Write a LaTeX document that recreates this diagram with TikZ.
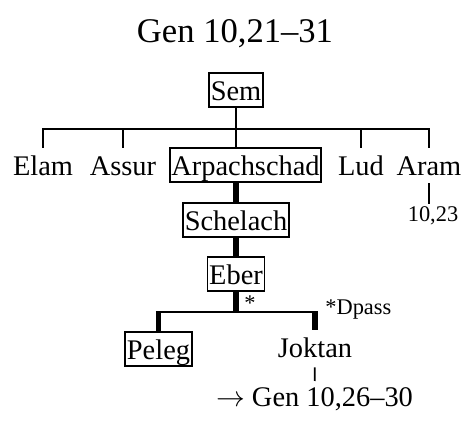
\documentclass[tikz,border=0pt]{standalone}
\usepackage{fontspec}
\setmainfont{Liberation Serif}
\begin{document}
\begin{tikzpicture}[x=0.5pt,y=-0.5pt,
  nm/.style={font=\fontsize{14.2}{17}\selectfont, inner xsep=0.8pt, inner ysep=0pt, text height=14pt, text depth=3pt},
  bx/.style={nm, draw, line width=0.9pt},
  sm/.style={font=\fontsize{11.2}{13}\selectfont, inner sep=0pt},
  ln/.style={line width=0.9pt},
  tk/.style={line width=2.7pt}]
\useasboundingbox (0,0) rectangle (465,421);
\node[font=\fontsize{17.3}{21}\selectfont, anchor=base] (title) at (235,43) {Gen 10,21--31};
%% Sem and sons
\node[bx] (sem) at (236,90) {Sem};
\node[nm] (elam) at (43,165) {Elam};
\node[nm] (assur) at (123,165) {Assur};
\node[bx] (arpa) at (245.5,165) {Arpachschad};
\node[nm] (lud) at (361,165) {Lud};
\node[nm] (aram) at (429,165) {Aram};
\node[sm, anchor=base] (aramref) at (433,222) {10,23};
\coordinate (bar) at (0,129);
\draw[ln] (sem) -- (sem |- bar);
\draw[ln] (elam.north) |- (aram.north |- bar) -- (aram.north);
\foreach \n in {assur,lud} \draw[ln] (\n.north) -- (\n.north |- bar);
\draw[ln] (arpa.north -| sem) -- (sem |- bar);
\draw[ln, shorten <=0.5pt, shorten >=1.5pt] (aram.south) -- (aram.south |- aramref.north);
%% line down to Eber
\node[bx] (schelach) at (236,220) {Schelach};
\node[bx] (eber) at (236,274) {Eber};
\draw[tk] (arpa.south -| sem) -- (schelach);
\draw[tk] (schelach) -- (eber);
%% Eber's sons
\node[bx] (peleg) at (158.5,349) {Peleg};
\node[nm] (joktan) at (315,347) {Joktan};
\node[nm] (gen) at (314.5,396) {$\rightarrow$ Gen 10,26--30};
\node[sm] (star) at (250,303) {*};
\node[sm, anchor=base west] (dpass) at (325,315) {*Dpass};
\coordinate (bar2) at (0,312);
\draw[tk] (eber) -- (eber |- bar2);
\draw[ln, shorten <=-1.3pt, shorten >=-1.3pt] (peleg.north |- bar2) -- (joktan.north |- bar2);
\draw[tk] (peleg.north |- bar2) -- (peleg.north);
\draw[tk] (joktan.north |- bar2) -- (joktan.north);
\draw[ln, shorten <=1.5pt, shorten >=-1.2pt] (joktan) -- (gen);
\end{tikzpicture}
\end{document}
